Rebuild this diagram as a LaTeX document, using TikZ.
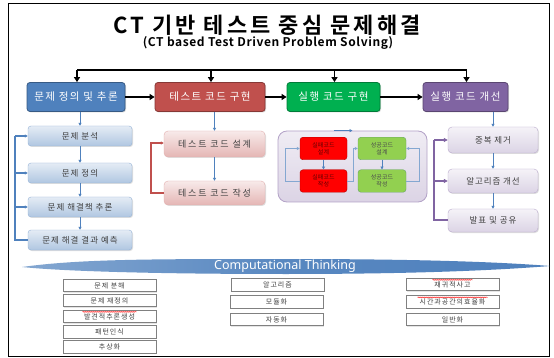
\documentclass[tikz,border=0pt]{standalone}
\usepackage{fontspec}
\setmainfont{Noto Sans CJK KR}[BoldFont={Noto Sans CJK KR Bold}]
\newfontfamily\ctfont{Noto Sans}
\usetikzlibrary{arrows.meta,shadows,decorations.pathmorphing}
\definecolor{mblue}{HTML}{4F81BD}
\definecolor{mred}{HTML}{C0504D}
\definecolor{mgreen}{HTML}{00B050}
\definecolor{mpurple}{HTML}{8064A2}
\definecolor{txtgray}{HTML}{404040}
\newcommand\fsz[3]{\fontsize{#1}{#2}\selectfont\addfontfeature{LetterSpace=#3}}
\tikzset{
  topbox/.style={rounded corners=3pt, draw=#1!70!black, fill=#1, line width=0.8pt,
    text=white, font=\fsz{10.5}{11}{14}, minimum height=29pt, inner sep=0pt,
    drop shadow={opacity=0.3,shadow xshift=1pt,shadow yshift=-1pt}},
  bluebox/.style={rounded corners=3pt, draw=mblue!60, top color=mblue!15, bottom color=mblue!45,
    text=txtgray, font=\fsz{8.5}{9}{12}, minimum width=104pt, minimum height=20pt, inner sep=0pt,
    drop shadow={opacity=0.25,shadow xshift=1pt,shadow yshift=-1pt}},
  redbox/.style={rounded corners=4pt, draw=mred!45, top color=mred!12, bottom color=mred!42,
    text=txtgray, font=\fsz{9}{10}{20}, minimum width=101pt, inner sep=0pt,
    drop shadow={opacity=0.25,shadow xshift=1pt,shadow yshift=-1pt}},
  purbox/.style={rounded corners=4pt, draw=mpurple!55, top color=mpurple!8, bottom color=mpurple!28,
    text=txtgray, font=\fsz{8.5}{9}{11}, minimum width=90pt, inner sep=0pt,
    drop shadow={opacity=0.25,shadow xshift=1pt,shadow yshift=-1pt}},
  failbox/.style={rounded corners=3pt, draw=red!70!black, fill=red, text=red!40!black,
    font=\fontsize{6}{7}\selectfont, align=center, minimum width=47pt, minimum height=22.5pt, inner sep=0pt},
  passbox/.style={rounded corners=3pt, draw=green!40!black!60, fill={rgb,255:red,146;green,208;blue,80},
    text=black!70, font=\fontsize{6}{7}\selectfont, align=center, minimum width=48pt, minimum height=22.5pt, inner sep=0pt},
  ctbox/.style={draw=black!50, line width=0.7pt, fill=white, text=txtgray,
    font=\fsz{7}{8}{14}, minimum width=93pt, minimum height=12.5pt, inner sep=0pt,
    drop shadow={opacity=0.2,shadow xshift=0.8pt,shadow yshift=-0.8pt}},
  bigarrow/.style={line width=1.8pt, -{Triangle[length=5pt,width=6pt]}},
  bluearrow/.style={draw=mblue, line width=0.8pt, -{Triangle[length=3pt,width=3pt]}},
  squig/.style={draw=red!85, line width=0.45pt, decorate, decoration={snake, amplitude=0.5pt, segment length=2pt}}
}
\begin{document}
\begin{tikzpicture}[x=1pt,y=-1pt]
\useasboundingbox (0,0) rectangle (554,358);
\fill[white] (0,0) rectangle (554,358);
\draw[line width=1pt] (8,3.5) rectangle (549,356);

% titles
\node[font=\bfseries\fsz{22}{24}{14}] (title) at (267,25) {CT 기반 테스트 중심 문제해결};
\node[font=\bfseries\fsz{12}{13}{5}] (subtitle) at (268,43) {(CT based Test Driven Problem Solving)};

% top boxes
\node[topbox=mblue, minimum width=98pt] (b1) at (76,97) {문제 정의 및 추론};
\node[topbox=mred, minimum width=110pt] (b2) at (210,97) {테스트 코드 구현};
\node[topbox=mgreen, minimum width=93pt] (b3) at (333.5,97) {실행 코드 구현};
\node[topbox=mpurple, minimum width=85pt] (b4) at (465.5,97) {실행 코드 개선};

\coordinate (bar) at (0,70);
\draw[line width=1.8pt] ([xshift=1pt]b1.north |- bar) -- ([xshift=1pt]b4.north |- bar);
\foreach \n in {b1,b2,b3,b4}{
  \draw[bigarrow] ([xshift=1pt]\n.north |- bar) -- ([xshift=1pt]\n.north);
}
\draw[bigarrow] (b1.east) -- (b2.west);
\draw[bigarrow] (b2.east) -- (b3.west);
\draw[bigarrow] (b3.east) -- (b4.west);

% left column
\node[bluebox] (l1) at (80,136) {문제 분석};
\node[bluebox] (l2) at (80,173) {문제 정의};
\node[bluebox] (l3) at (80,207) {문제 해결책 추론};
\node[bluebox] (l4) at (80,240) {문제 해결 결과 예측};
\draw[bluearrow] (l1.north |- b1.south) -- (l1.north);
\draw[bluearrow] (l1) -- (l2);
\draw[bluearrow] (l2) -- (l3);
\draw[bluearrow] (l3) -- (l4);
\coordinate (lx) at (15,0);
\draw[draw=mblue, line width=1.3pt] (l4.west) -- (l4.west -| lx) -- (l1.west -| lx);
\draw[bluearrow, line width=1.3pt] (l1.west -| lx) -- (l1.west);
\draw[bluearrow, line width=1.3pt] (l2.west -| lx) -- (l2.west);
\draw[bluearrow, line width=1.3pt] (l3.west -| lx) -- (l3.west);

% red column
\node[redbox, minimum height=26pt] (r1) at (214.5,144) {테스트 코드 설계};
\node[redbox, minimum height=24pt] (r2) at (214.5,193) {테스트 코드 작성};
\draw[bluearrow] (r1.north |- b2.south) -- (r1.north);
\draw[bluearrow] (r1) -- (r2);
\coordinate (rx) at (151,0);
\draw[draw=mred, line width=1.3pt, -{Triangle[length=3pt,width=3pt]}] (r2.west) -- (r2.west -| rx) -- ([yshift=1pt]r1.west -| rx) -- ([yshift=1pt]r1.west);

% green container
\node[rounded corners=9pt, draw=mpurple!60, line width=0.8pt, top color=mpurple!12, bottom color=mpurple!28,
  minimum width=149pt, minimum height=71pt, inner sep=0pt] (cont) at (352.5,166.5) {};
\draw[bluearrow] (cont.north -| b3.south) -- (cont.north);
\node[failbox] (f1) at (323.5,148.5) {실패코드\\설계};
\node[failbox] (f2) at (323.5,181) {실패코드\\작성};
\node[passbox] (s1) at (382,148.5) {성공코드\\설계};
\node[passbox] (s2) at (382,181) {성공코드\\작성};
\draw[bluearrow] (f1) -- (f2);
\draw[bluearrow] (s1) -- (s2);
\coordinate (gx1) at (285,0);
\coordinate (gx2) at (353,0);
\coordinate (gx3) at (419,0);
\draw[bluearrow, draw=mblue!70] (f2.west) -- (f2.west -| gx1) -- (f1.west -| gx1) -- (f1.west);
\draw[bluearrow, draw=mblue!70] (f2.east) -- (f2.east -| gx2) -- (s1.west -| gx2) -- (s1.west);
\draw[bluearrow, draw=mblue!70] (s2.east) -- (s2.east -| gx3) -- (s1.east -| gx3) -- (s1.east);

% purple column
\node[purbox, minimum height=26pt] (p1) at (493,140) {중복 제거};
\node[purbox, minimum height=24pt] (p2) at (493,181) {알고리즘 개선};
\node[purbox, minimum height=23pt] (p3) at (493,220.5) {발표 및 공유};
\draw[bluearrow] (p1.north |- b4.south) -- (p1.north);
\draw[bluearrow] (p1) -- (p2);
\draw[bluearrow] (p2) -- (p3);
\coordinate (px) at (434,0);
\draw[draw=mpurple, line width=2pt] (p3.west) -- (p3.west -| px) -- (p1.west -| px);
\draw[draw=mpurple, line width=2pt, -{Triangle[length=4pt,width=4pt]}] (p1.west -| px) -- (p1.west);
\draw[draw=mpurple, line width=2pt, -{Triangle[length=4pt,width=4pt]}] (p2.west -| px) -- (p2.west);

% banner
\shade[left color=mblue!70, right color=mblue, middle color=mblue!95]
  (22,267) .. controls (80,259) and (150,259) .. (286,259)
  .. controls (420,259) and (500,262) .. (550,266)
  .. controls (500,270) and (420,274) .. (286,274)
  .. controls (150,274) and (60,271) .. (22,267) -- cycle;
\node[text=white, font=\ctfont\fontsize{12.5}{13}\selectfont] (ct) at (285,266.5) {Computational Thinking};

% bottom boxes
\node[ctbox] (c11) at (109.5,285.5) {문제 분해};
\node[ctbox] (c12) at (109.5,300.5) {문제 재정의};
\node[ctbox] (c13) at (109.5,316.5) {발견적추론생성};
\node[ctbox] (c14) at (109.5,332) {패턴인식};
\node[ctbox] (c15) at (109.5,347) {추상화};
\node[ctbox] (c21) at (277.5,285) {알고리즘};
\node[ctbox] (c22) at (276.5,302) {모듈화};
\node[ctbox] (c23) at (276.5,319.5) {자동화};
\node[ctbox] (c31) at (452.5,284.5) {재귀적사고};
\node[ctbox] (c32) at (452.5,302) {시간과공간의효율화};
\node[ctbox] (c33) at (452.5,319.5) {일반화};
\draw[squig] ([xshift=-27pt,yshift=4.6pt]c13.center) -- ([xshift=27pt,yshift=4.6pt]c13.center);
\draw[squig] ([xshift=-20pt,yshift=4.6pt]c31.center) -- ([xshift=20pt,yshift=4.6pt]c31.center);
\draw[squig] ([xshift=-35pt,yshift=4.6pt]c32.center) -- ([xshift=35pt,yshift=4.6pt]c32.center);
\end{tikzpicture}
\end{document}
